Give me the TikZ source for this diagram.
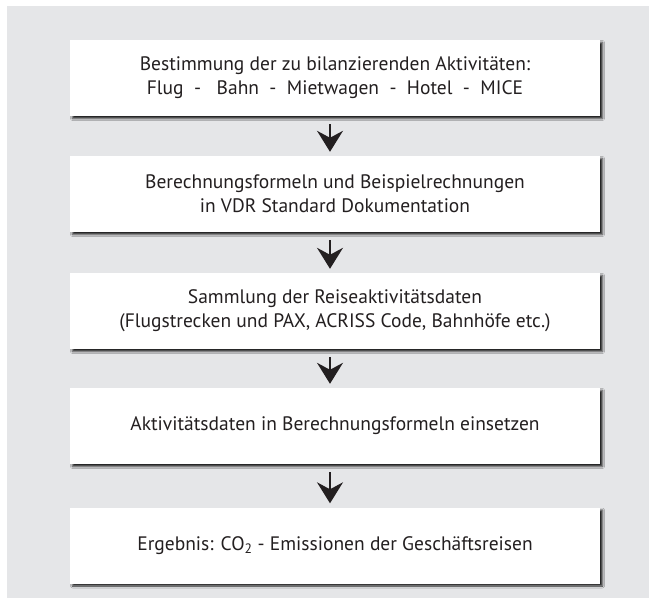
\documentclass[tikz,border=0pt]{standalone}
\usepackage{fontspec}
\setmainfont{PT Sans}
\usetikzlibrary{arrows.meta,shadows.blur}
\definecolor{bggray}{RGB}{229,230,232}
\definecolor{textgray}{RGB}{35,31,32}

\begin{document}
\begin{tikzpicture}
	[x=1pt, y=-1pt,
	box_style/.style={rectangle, fill=white, minimum width=530pt, minimum height=76pt,
		inner sep=0pt, align=center, text=textgray, font=\fontsize{19.5}{24}\selectfont,
		blur shadow={shadow xshift=2.5pt, shadow yshift=-2.5pt, shadow blur radius=2pt, shadow opacity=85}},
	arrow_style/.style={draw=textgray, line width=1.6pt, -{Stealth[length=21pt, width=26pt, inset=7pt]},
		shorten <=8pt, shorten >=4pt}]
	\useasboundingbox (0,0) rectangle (649,608);
	\fill[bggray] (7,6) rectangle (649,598);

	\node[box_style] (n1) at (335,78) {Bestimmung der zu bilanzierenden Aktivitäten:\\
		Flug~~-~~~Bahn~~-~~Mietwagen~~-~~Hotel~~-~~MICE};
	\node[box_style] (n2) at (335,194) {Berechnungsformeln und Beispielrechnungen\\
		in VDR Standard Dokumentation};
	\node[box_style] (n3) at (335,311) {Sammlung der Reiseaktivitätsdaten\\
		(Flugstrecken und PAX, ACRISS Code, Bahnhöfe etc.)};
	\node[box_style] (n4) at (335,426) {Aktivitätsdaten in Berechnungsformeln einsetzen};
	\node[box_style] (n5) at (335,545.5) {Ergebnis: CO\textsubscript{2} - Emissionen der Geschäftsreisen};

	\draw[arrow_style] ([xshift=-5pt]n1.south) -- ([xshift=-5pt]n2.north);
	\draw[arrow_style] ([xshift=-5pt]n2.south) -- ([xshift=-5pt]n3.north);
	\draw[arrow_style] ([xshift=-5pt]n3.south) -- ([xshift=-5pt]n4.north);
	\draw[arrow_style] ([xshift=-5pt]n4.south) -- ([xshift=-5pt]n5.north);
\end{tikzpicture}
\end{document}
